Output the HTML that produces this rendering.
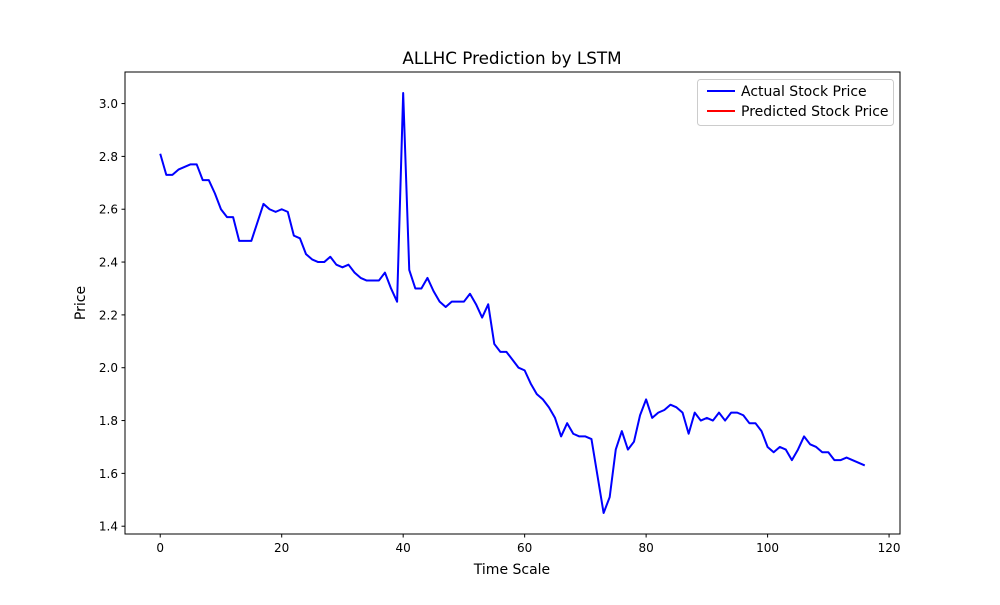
<!DOCTYPE html>
<html><head><meta charset="utf-8"><style>
body{margin:0;background:#fff}
svg text{font-family:"DejaVu Sans","Liberation Sans",sans-serif;fill:#000}
</style></head><body>
<svg id="chart" width="1000" height="600" viewBox="0 0 1000 600">
<rect width="1000" height="600" fill="#fff"/>
<text x="512" y="64" font-size="16.8" text-anchor="middle">ALLHC Prediction by LSTM</text>
<g id="ticks"></g>
<path id="actual" fill="none" stroke="#0000ff" stroke-width="2" stroke-linejoin="round"/>
<rect x="125" y="72" width="775" height="462" fill="none" stroke="#000" stroke-width="1"/>
<text x="512" y="574" font-size="14" text-anchor="middle">Time Scale</text>
<text x="0" y="0" font-size="14" text-anchor="middle" transform="translate(85,303) rotate(-90)">Price</text>
<g>
<rect x="697.5" y="79.5" width="196" height="46" rx="3" fill="#fff" stroke="#ccc"/>
<line x1="707" y1="91" x2="735" y2="91" stroke="#0000ff" stroke-width="2"/>
<text x="741" y="96" font-size="14">Actual Stock Price</text>
<line x1="707" y1="111" x2="735" y2="111" stroke="#ff0000" stroke-width="2"/>
<text x="741" y="116" font-size="14">Predicted Stock Price</text>
</g>
</svg>
<script>
const actualValues=[2.81,2.73,2.73,2.75,2.76,2.77,2.77,2.71,2.71,2.66,2.60,2.57,2.57,2.48,2.48,2.48,2.55,2.62,2.60,2.59,2.60,2.59,2.50,2.49,2.43,2.41,2.40,2.40,2.42,2.39,2.38,2.39,2.36,2.34,2.33,2.33,2.33,2.36,2.30,2.25,3.04,2.37,2.30,2.30,2.34,2.29,2.25,2.23,2.25,2.25,2.25,2.28,2.24,2.19,2.24,2.09,2.06,2.06,2.03,2.00,1.99,1.94,1.90,1.88,1.85,1.81,1.74,1.79,1.75,1.74,1.74,1.73,1.59,1.45,1.51,1.69,1.76,1.69,1.72,1.82,1.88,1.81,1.83,1.84,1.86,1.85,1.83,1.75,1.83,1.80,1.81,1.80,1.83,1.80,1.83,1.83,1.82,1.79,1.79,1.76,1.70,1.68,1.70,1.69,1.65,1.69,1.74,1.71,1.70,1.68,1.68,1.65,1.65,1.66,1.65,1.64,1.63];
const xTicks=[0,20,40,60,80,100,120];
const yTicks=[1.4,1.6,1.8,2.0,2.2,2.4,2.6,2.8,3.0];
const L=125,R=900,T=72,B=534;
const n=actualValues.length;
const xmin=-0.05*(n-1),xmax=(n-1)*1.05;
const vmin=Math.min(...actualValues),vmax=Math.max(...actualValues),pad=(vmax-vmin)*0.05;
const ymin=vmin-pad,ymax=vmax+pad;
const sx=v=>L+(v-xmin)/(xmax-xmin)*(R-L);
const sy=v=>B-(v-ymin)/(ymax-ymin)*(B-T);
const NS="http://www.w3.org/2000/svg";
const g=document.getElementById('ticks');
function mk(tag,attrs,txt){const e=document.createElementNS(NS,tag);for(const k in attrs)e.setAttribute(k,attrs[k]);if(txt!==undefined)e.textContent=txt;g.appendChild(e);return e;}
xTicks.forEach(t=>{const x=sx(t);
const l=mk('line',{x1:x,x2:x,y1:B,y2:B+3.5,stroke:'#000'});


const s=mk('text',{x:x,y:B+18,'font-size':12,'text-anchor':'middle'},String(t));

});
yTicks.forEach(t=>{const y=sy(t);
const l=mk('line',{x1:L-3.5,x2:L,y1:y,y2:y,stroke:'#000'});


const s=mk('text',{x:L-7,y:y+4.5,'font-size':12,'text-anchor':'end'},t.toFixed(1));

});
document.getElementById('actual').setAttribute('d',actualValues.map((v,i)=>(i?'L':'M')+sx(i).toFixed(2)+','+sy(v).toFixed(2)).join(''));
</script>
</body></html>
